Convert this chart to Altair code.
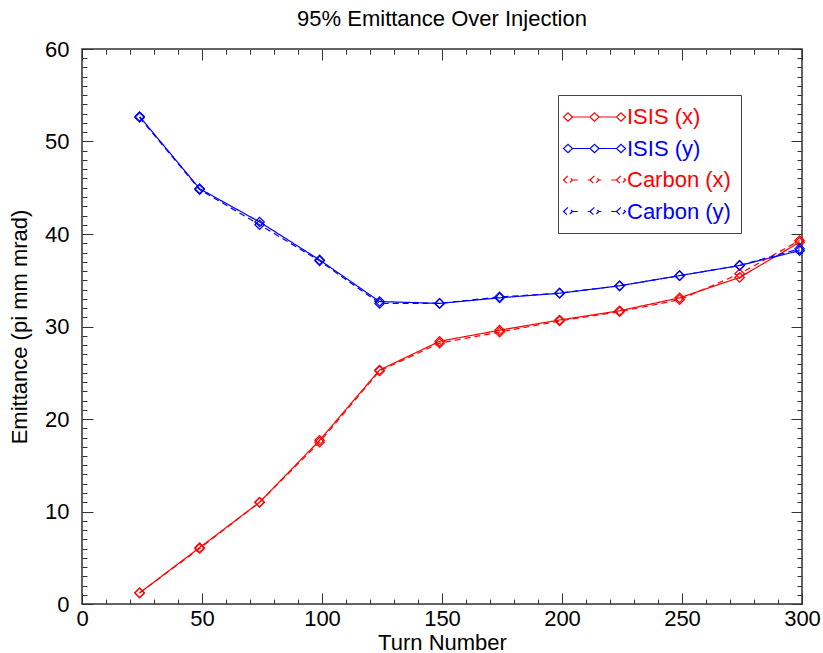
import altair as alt
import pandas as pd

# ---- data ----
turns = [24, 49, 74, 99, 124, 149, 174, 199, 224, 249, 274, 299]
isis_x = [1.2, 6.1, 11.0, 17.7, 25.3, 28.4, 29.6, 30.7, 31.7, 33.1, 35.3, 39.1]
isis_y = [52.7, 44.9, 41.3, 37.2, 32.7, 32.5, 33.1, 33.6, 34.4, 35.5, 36.6, 38.2]
carbon_x = [1.2, 6.0, 11.0, 17.5, 25.2, 28.2, 29.4, 30.6, 31.6, 32.9, 35.7, 39.3]
carbon_y = [52.6, 44.8, 41.0, 37.1, 32.5, 32.5, 33.2, 33.6, 34.4, 35.5, 36.6, 38.4]

series_names = ["ISIS (x)", "ISIS (y)", "Carbon (x)", "Carbon (y)"]
series_colors = ["#ff0000", "#0000ff", "#ff0000", "#0000ff"]
series_dash = [[1, 0], [1, 0], [6, 4], [6, 4]]

x_ticks = list(range(0, 301, 10))
y_ticks = list(range(0, 61, 1))

rows = []
for name, vals in zip(series_names, [isis_x, isis_y, carbon_x, carbon_y]):
    for t, v in zip(turns, vals):
        rows.append({"turn": t, "emit": v, "series": name})
df = pd.DataFrame(rows)

F = "Liberation Sans"

SH = -0.5  # horizontal shift of the legend glyph (units of 11 px)


def diamond(cx, w=0.41, h=0.38):
    cx = cx + SH
    return f"M{cx - w:.3f},0L{cx:.3f},{-h}L{cx + w:.3f},0L{cx:.3f},{h}Z"


def seg(a, b):
    return f"M{a + SH:.3f},0L{b + SH:.3f},0"


# legend glyph: line + three open diamonds, 62 px wide (1 unit = 11 px)
diamonds = diamond(-0.59) + diamond(1.818) + diamond(4.226)
isis_path = diamonds + seg(-0.18, 1.408) + seg(2.228, 3.816)
carbon_path = (diamonds + seg(-0.18, 0.3) + seg(1.2, 1.408)
               + seg(2.228, 2.43) + seg(3.34, 3.816))
series_shapes = [isis_path, isis_path, carbon_path, carbon_path]

xs = alt.Scale(domain=[0, 300], nice=False, zero=False)
ys = alt.Scale(domain=[0, 60], nice=False, zero=False)
cs = alt.Scale(domain=series_names, range=series_colors)
ds = alt.Scale(domain=series_names, range=series_dash)
ss = alt.Scale(domain=series_names, range=series_shapes)

common = dict(
    domain=False,
    grid=False,
    tickColor="#333333",
    tickWidth=1,
    labelFont=F,
    labelFontSize=22,
    labelColor="black",
    labelOverlap=False,
    labelFlush=False,
    titleFont=F,
    titleFontSize=22,
    titleColor="black",
    titleFontWeight="normal",
)

x_bottom = alt.Axis(
    orient="bottom",
    values=x_ticks,
    labelExpr="datum.value % 50 === 0 ? datum.label : ''",
    tickSize={"expr": "datum.value % 50 === 0 ? -11 : -5"},
    labelPadding=15,
    title="Turn Number",
    titlePadding=-3,
    **common,
)
x_top = alt.Axis(
    orient="top",
    values=x_ticks,
    labels=False,
    tickSize={"expr": "datum.value % 50 === 0 ? -11 : -5"},
    title=None,
    **common,
)
y_left = alt.Axis(
    orient="left",
    values=y_ticks,
    labelExpr="datum.value % 10 === 0 ? datum.label : ''",
    tickSize={"expr": "datum.value % 10 === 0 ? -11 : -5"},
    labelPadding=24,
    title="Emittance (pi mm mrad)",
    titlePadding=13,
    **common,
)
y_right = alt.Axis(
    orient="right",
    values=y_ticks,
    labels=False,
    tickSize={"expr": "datum.value % 10 === 0 ? -11 : -5"},
    title=None,
    **common,
)

leg = alt.Legend(
    title=None,
    orient="none",
    legendX=476,
    legendY=46,
    fillColor="white",
    strokeColor="#444444",
    padding=10,
    rowPadding=8.5,
    labelFont=F,
    labelFontSize=22,
    labelOffset=35,
    labelLimit=400,
    symbolSize=484,
    symbolStrokeWidth=1.2,
    symbolOpacity=1,
    labelColor={"expr": "indexof(datum.label, '(x)') >= 0 ? '#ff0000' : '#0000ff'"},
)

# legend-only layer (no marks drawn), placed first so its legend settings win
legend_layer = alt.Chart(df).transform_filter("false").mark_point(
    filled=False, size=484, strokeWidth=1.2, opacity=1
).encode(
    color=alt.Color("series:N", scale=cs, legend=leg),
    shape=alt.Shape("series:N", scale=ss, legend=leg),
)

lines = alt.Chart(df).mark_line(strokeWidth=1.2).encode(
    x=alt.X("turn:Q", scale=xs, axis=x_bottom),
    y=alt.Y("emit:Q", scale=ys, axis=y_left),
    color=alt.Color("series:N", scale=cs, legend=None),
    strokeDash=alt.StrokeDash("series:N", scale=ds, legend=None),
)

points = alt.Chart(df).mark_point(
    shape="diamond", filled=False, size=90, strokeWidth=1.2, opacity=1
).encode(
    x=alt.X("turn:Q", scale=xs, axis=x_top),
    y=alt.Y("emit:Q", scale=ys, axis=y_right),
    color=alt.Color("series:N", scale=cs, legend=None),
)

chart = (
    alt.layer(legend_layer, lines, points)
    .resolve_axis(x="independent", y="independent")
    .properties(
        width=720,
        height=555,
        title=alt.Title(
            "95% Emittance Over Injection",
            font=F,
            fontSize=22,
            fontWeight="normal",
            color="black",
            offset=7,
            anchor="middle",
        ),
        autosize=alt.AutoSizeParams(type="none"),
        padding={"left": 82, "top": 49, "right": 21, "bottom": 49},
    )
    .configure_view(stroke="#333333", strokeWidth=1.5)
)

chart.save("out.html", embed_options={"renderer": "svg", "actions": False})
